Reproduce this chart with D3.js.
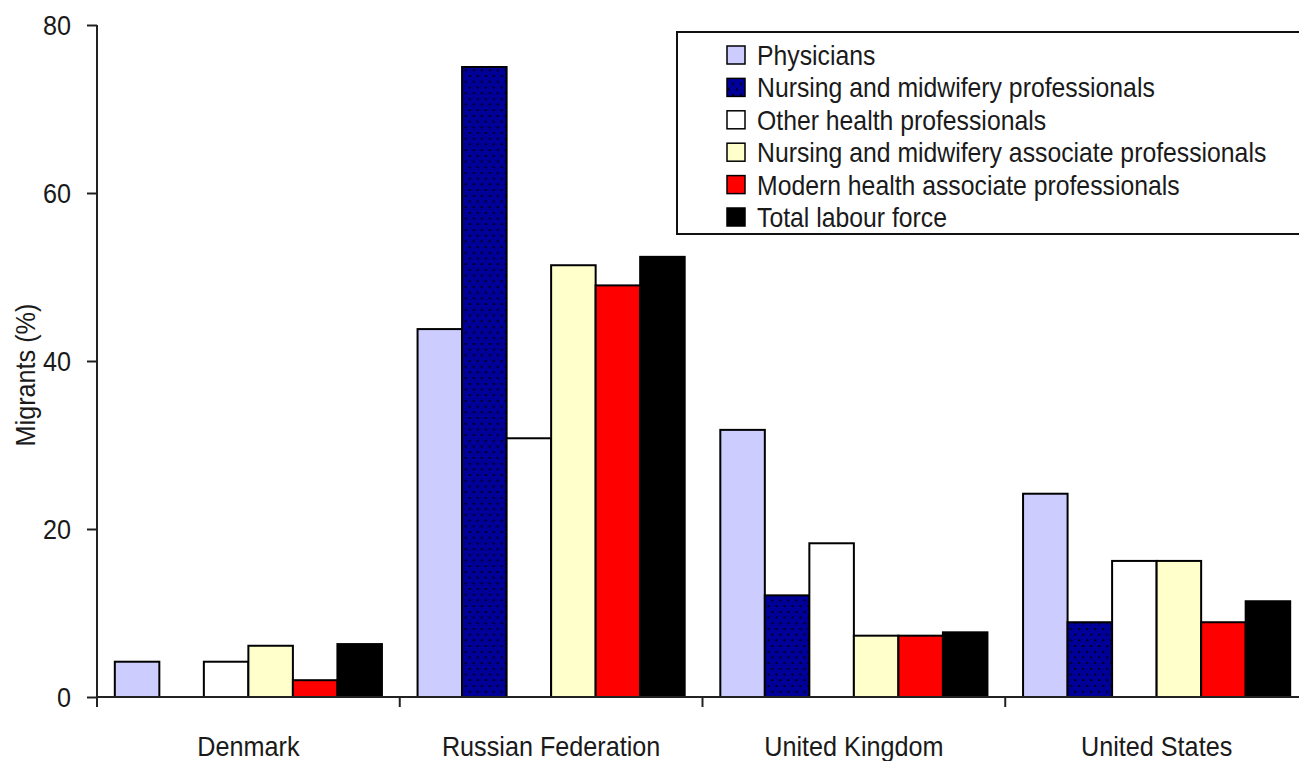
<!DOCTYPE html>
<html>
<head>
<meta charset="utf-8">
<script src="https://cdn.jsdelivr.net/npm/d3@7"></script>
<style>
  html, body { margin: 0; padding: 0; background: #fff; }
  svg { display: block; }
  text { font-family: "Liberation Sans", Arial, sans-serif; fill: #1a1a1a; }
</style>
</head>
<body>
<svg id="chart" width="1299" height="761"></svg>
<script>
// Share of migrants among health workers and the total labour force
const countries = ["Denmark", "Russian Federation", "United Kingdom", "United States"];
const seriesNames = [
  "Physicians",
  "Nursing and midwifery professionals",
  "Other health professionals",
  "Nursing and midwifery associate professionals",
  "Modern health associate professionals",
  "Total labour force"
];
const physicians      = [4.2, 43.8, 31.8, 24.2];
const nursingProf     = [0,   75.0, 12.1,  8.9];
const otherHealth     = [4.2, 30.8, 18.3, 16.2];
const nursingAssoc    = [6.1, 51.4,  7.3, 16.2];
const modernAssoc     = [2.0, 49.0,  7.3,  8.9];
const totalLabour     = [6.3, 52.4,  7.7, 11.4];
const yTicks = [0, 20, 40, 60, 80];

const seriesValues = [physicians, nursingProf, otherHealth, nursingAssoc, modernAssoc, totalLabour];
const fills = ["#ccccff", "url(#dots)", "#ffffff", "#ffffcc", "#ff0000", "#000000"];

const svg = d3.select("#chart");
const SX = 0.9; // horizontal squeeze for the narrow lettering

// dotted navy fill
const defs = svg.append("defs");
const pat = defs.append("pattern").attr("id", "dots")
  .attr("patternUnits", "userSpaceOnUse").attr("width", 8).attr("height", 11.4);
pat.append("rect").attr("width", 8).attr("height", 11.4).attr("fill", "#000099");
pat.append("circle").attr("cx", 2).attr("cy", 2).attr("r", 1.1).attr("fill", "#000");
pat.append("circle").attr("cx", 6).attr("cy", 7.7).attr("r", 1.1).attr("fill", "#000");

const left = 97, baseY = 697, topY = 25, band = 302.75;

const x0 = d3.scaleBand().domain(countries)
  .range([left, left + band * countries.length]).paddingInner(0).paddingOuter(0);
const x1 = d3.scaleBand().domain(seriesNames)
  .range([0, x0.bandwidth()]).paddingInner(0).paddingOuter(0.4);
const y = d3.scaleLinear().domain([0, 80]).range([baseY, topY]);

// bars
const groups = svg.append("g").selectAll("g").data(countries).join("g")
  .attr("transform", d => `translate(${x0(d)},0)`);
groups.selectAll("rect")
  .data((c, ci) => seriesNames.map((s, si) => ({ s, si, v: seriesValues[si][ci] })))
  .join("rect")
  .filter(d => d.v > 0)
  .attr("x", d => x1(d.s))
  .attr("y", d => y(d.v))
  .attr("width", x1.bandwidth())
  .attr("height", d => y(0) - y(d.v))
  .attr("fill", d => fills[d.si])
  .attr("stroke", "#000")
  .attr("stroke-width", 2);

// y axis
const yAxis = svg.append("g").attr("transform", `translate(${left},0)`)
  .call(d3.axisLeft(y).tickValues(yTicks).tickSize(10).tickSizeOuter(0).tickPadding(16));
yAxis.select(".domain").remove();
yAxis.selectAll(".tick line").attr("stroke", "#222").attr("stroke-width", 2);
yAxis.selectAll(".tick text")
  .style("font-size", "28px")
  .attr("x", null).attr("dy", "0.34em")
  .attr("transform", `translate(-26,0) scale(${SX},1)`);
svg.append("line").attr("x1", left).attr("x2", left)
  .attr("y1", y(80)).attr("y2", baseY + 10)
  .attr("stroke", "#222").attr("stroke-width", 2);

// x axis baseline and category boundary ticks
svg.append("line").attr("x1", left).attr("x2", 1299)
  .attr("y1", baseY).attr("y2", baseY).attr("stroke", "#222").attr("stroke-width", 2);
const bounds = countries.map(c => x0(c)).concat([x0.range()[1]]);
svg.append("g").selectAll("line").data(bounds).join("line")
  .attr("x1", d => d).attr("x2", d => d)
  .attr("y1", baseY).attr("y2", baseY + 10)
  .attr("stroke", "#222").attr("stroke-width", 2);

const xAxis = svg.append("g").attr("transform", `translate(0,${baseY})`)
  .call(d3.axisBottom(x0).tickSize(0).tickPadding(0));
xAxis.select(".domain").remove();
xAxis.selectAll(".tick text")
  .style("font-size", "28px")
  .attr("y", null).attr("dy", null)
  .attr("transform", `translate(0,59) scale(${SX},1)`);

// y title
svg.append("text")
  .attr("transform", `translate(35,375) rotate(-90) scale(${SX},1)`)
  .attr("text-anchor", "middle")
  .style("font-size", "28px")
  .text("Migrants (%)");

// legend
const lg = svg.append("g");
lg.append("rect").attr("x", 677).attr("y", 32).attr("width", 630).attr("height", 202)
  .attr("fill", "#fff").attr("stroke", "#111").attr("stroke-width", 2);
const rows = lg.selectAll("g.row").data(seriesNames).join("g").attr("class", "row")
  .attr("transform", (d, i) => `translate(727,${55 + i * 32.4})`);
rows.append("rect").attr("x", 0).attr("y", -9).attr("width", 18).attr("height", 18)
  .attr("fill", (d, i) => fills[i]).attr("stroke", "#000").attr("stroke-width", 1.5);
rows.append("text")
  .attr("transform", `translate(30,0) scale(0.885,1)`)
  .attr("dy", "0.36em")
  .style("font-size", "28px")
  .text(d => d);
</script>
</body>
</html>
